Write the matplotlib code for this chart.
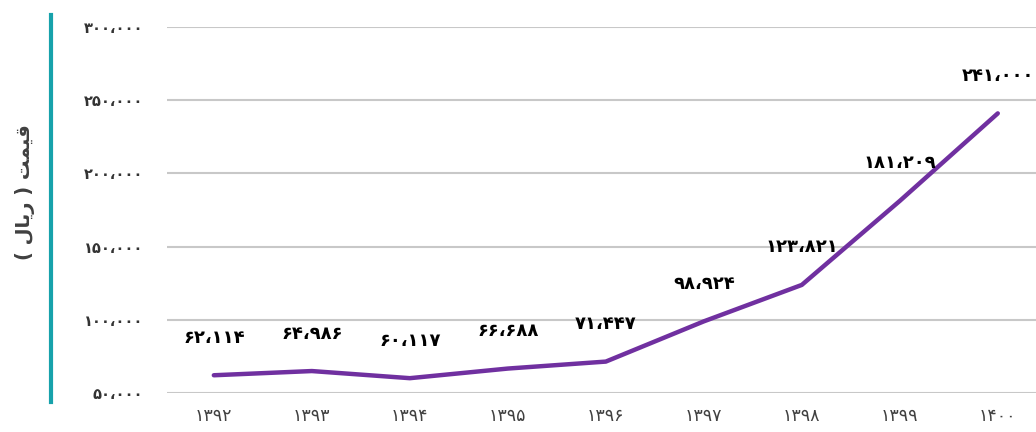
import matplotlib
matplotlib.use('Agg')
import matplotlib.pyplot as plt
from matplotlib.lines import Line2D

plt.rcParams['font.family'] = ['DejaVu Sans']

# سال ها و قیمت ها
years = ['1392', '1393', '1394', '1395', '1396', '1397', '1398', '1399', '1400']
prices = [62114, 64986, 60117, 66688, 71447, 98924, 123821, 181209, 241000]
yticks = [50000, 100000, 150000, 200000, 250000, 300000]

FA = str.maketrans('0123456789', '۰۱۲۳۴۵۶۷۸۹')


def fa_num(n):
    return '{:,}'.format(n).replace(',', '،').translate(FA)


# "قیمت ( ریال )" in presentation forms, visual order
ylab = '( \uFEDD\uFE8E\uFEF3\uFEAD ) \uFE96\uFEE4\uFEF4\uFED7'

fig = plt.figure(figsize=(10.36, 4.32), dpi=100)
ax = fig.add_axes([0.161, 0.0903, 0.839, 0.8472])

x = list(range(len(years)))
ax.plot(x, prices, color='#7030A0', lw=3.2, solid_capstyle='round', zorder=3)

for xi, v in zip(x, prices):
    ax.annotate(fa_num(v), (xi, v), xytext=(0, 27), textcoords='offset points',
                ha='center', va='center', fontsize=13, fontweight='bold', color='black')

ax.set_xlim(-0.48, 8.39)
ax.set_ylim(50000, 300000)
ax.set_yticks(yticks)
ax.set_yticklabels([fa_num(t) for t in yticks], fontsize=10.5, fontweight='bold', color='#333333')
ax.set_xticks(x)
ax.set_xticklabels([y.translate(FA) for y in years], fontsize=12.5, color='#404040')
ax.tick_params(axis='both', length=0)
ax.tick_params(axis='y', pad=17)
ax.tick_params(axis='x', pad=10)
ax.grid(axis='y', color='#c8c8c8', lw=1.5)
ax.set_axisbelow(True)
for s in ax.spines.values():
    s.set_visible(False)

fig.add_artist(Line2D([0.049, 0.049], [0.07, 0.965], transform=fig.transFigure,
                      color='#17a2ab', lw=3))
fig.text(0.024, 0.556, ylab, rotation=90, ha='center', va='center',
         fontsize=14, fontweight='bold', color='#404040')

fig.savefig('out.png', dpi=100)
